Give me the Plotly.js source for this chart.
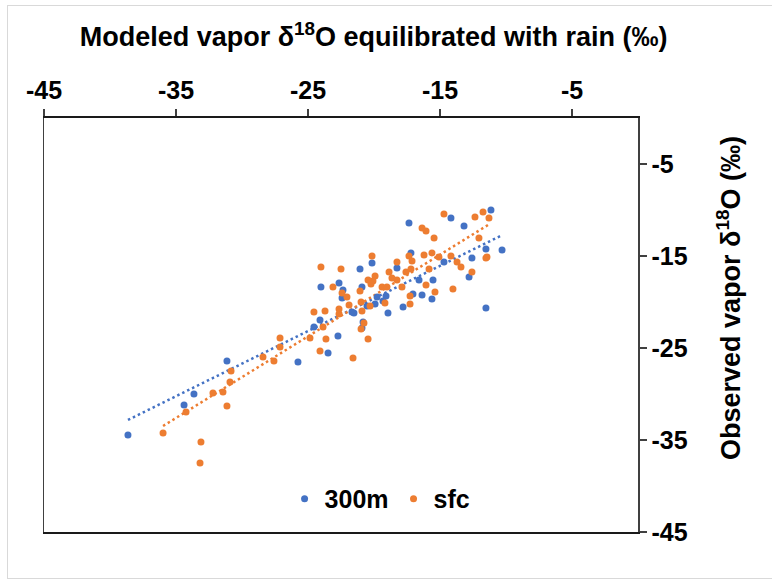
<!DOCTYPE html>
<html>
<head>
<meta charset="utf-8">
<script src="https://cdn.plot.ly/plotly-3.0.1.min.js"></script>
<style>
  html, body { margin: 0; padding: 0; background: #fff; overflow: hidden; }
  #wrap { position: relative; width: 772px; height: 584px; overflow: hidden; }
  #chart { width: 772px; height: 584px; }
  #frame { position: absolute; left: 7px; top: 5px; width: 800px; height: 572px;
           border: 1px solid #d9d9d9; pointer-events: none; }
</style>
</head>
<body>
<div id="wrap">
  <div id="chart"></div>
  <div id="frame"></div>
</div>
<script>
// Modeled vapor d18O equilibrated with rain (x) vs observed vapor d18O (y)
const x300m = [-38.64, -34.39, -33.64, -31.14, -25.76, -23.48, -22.73, -24.55, -24.09, -22.42,
               -22.65, -22.35, -24.02, -20.91, -21.06, -20.15, -18.26, -17.20, -17.35, -14.17,
               -11.14, -13.18, -10.30, -11.52, -12.58, -14.70, -12.80, -15.53, -16.59, -17.05,
               -16.36, -15.61, -19.09, -19.77, -19.32, -19.92, -20.53, -17.80, -21.52, -21.67,
               -11.52, -18.94, -20.83, -20.91];
const y300m = [-34.46, -31.20, -30.00, -26.41, -26.52, -25.54, -23.70, -22.72, -21.96, -19.57,
               -17.93, -18.70, -18.37, -18.37, -16.41, -15.76, -16.30, -14.67, -11.41, -10.87,
               -10.00, -11.74, -14.35, -14.24, -15.22, -15.65, -17.28, -17.61, -17.61, -19.13,
               -19.24, -19.67, -19.35, -19.46, -19.89, -20.22, -20.43, -20.54, -21.20, -21.09,
               -20.65, -21.20, -22.17, -22.83];

const xSfc = [-35.98, -33.11, -33.18, -34.24, -32.20, -31.44, -31.14, -30.91, -30.83, -28.41,
              -27.58, -27.12, -27.12, -24.85, -24.09, -23.64, -24.55, -23.71, -22.65, -14.70,
              -12.35, -11.74, -11.29, -16.36, -16.06, -15.45, -12.05, -20.15, -17.35, -16.21,
              -15.61, -15.08, -14.17, -11.52, -11.44, -24.02, -22.50, -18.26, -17.12, -13.71,
              -13.41, -12.58, -15.83, -17.20, -17.58, -18.86, -19.92, -20.08, -20.45, -20.23,
              -18.64, -18.26, -23.11, -21.06, -19.39, -19.02, -17.88, -16.06, -15.38, -14.02,
              -22.42, -22.05, -21.89, -20.98, -20.30, -19.17, -17.27, -17.27, -22.65, -20.91,
              -20.76, -20.98, -23.86, -20.45, -21.59];
const ySfc = [-34.24, -35.22, -37.50, -31.96, -29.89, -29.78, -31.30, -28.70, -27.50, -25.98,
              -26.41, -24.89, -23.91, -23.91, -25.33, -24.02, -21.09, -20.98, -20.76, -10.43,
              -10.76, -10.22, -10.87, -11.96, -12.28, -13.04, -13.04, -15.00, -15.00, -14.89,
              -14.67, -15.11, -15.00, -15.22, -15.11, -16.20, -16.41, -15.65, -15.54, -15.65,
              -16.20, -16.74, -16.41, -16.41, -16.74, -16.74, -17.17, -17.72, -17.61, -18.04,
              -17.39, -17.61, -18.37, -18.80, -18.37, -18.37, -18.37, -18.15, -18.91, -18.59,
              -19.02, -19.46, -20.33, -20.00, -20.43, -20.11, -19.35, -20.22, -21.30, -20.98,
              -22.28, -22.93, -22.72, -24.02, -26.09];

const seriesNames = ['300m', 'sfc'];
const xTickVals = [-45, -35, -25, -15, -5];
const yTickVals = [-5, -15, -25, -35, -45];

const BLUE = '#4472C4', ORANGE = '#ED7D31';
const FONT = 'Liberation Sans, Arial, sans-serif';

// least-squares linear trendline spanning each series' x range
function trend(xs, ys) {
  const n = xs.length;
  const mx = xs.reduce((a, b) => a + b, 0) / n;
  const my = ys.reduce((a, b) => a + b, 0) / n;
  let sxy = 0, sxx = 0;
  for (let i = 0; i < n; i++) { sxy += (xs[i] - mx) * (ys[i] - my); sxx += (xs[i] - mx) ** 2; }
  const b = sxy / sxx, a = my - b * mx;
  const x0 = Math.min(...xs), x1 = Math.max(...xs);
  return { x: [x0, x1], y: [a + b * x0, a + b * x1] };
}
const t300 = trend(x300m, y300m);
const tSfc = trend(xSfc, ySfc);

const traces = [
  { x: t300.x, y: t300.y, mode: 'lines', showlegend: false, hoverinfo: 'skip',
    line: { color: BLUE, width: 2.5, dash: '2.5px,3px' } },
  { x: tSfc.x, y: tSfc.y, mode: 'lines', showlegend: false, hoverinfo: 'skip',
    line: { color: ORANGE, width: 2.5, dash: '2.5px,3px' } },
  { x: x300m, y: y300m, mode: 'markers', name: seriesNames[0],
    marker: { color: BLUE, size: 7 } },
  { x: xSfc, y: ySfc, mode: 'markers', name: seriesNames[1],
    marker: { color: ORANGE, size: 7 } }
];

const layout = {
  width: 772, height: 584,
  margin: { l: 44, r: 134, t: 118, b: 52 },
  paper_bgcolor: '#fff', plot_bgcolor: '#fff',
  font: { family: FONT, size: 24, color: '#000', weight: 'bold' },
  title: { text: 'Modeled vapor δ<sup>18</sup>O equilibrated with rain (‰)',
           x: 0.484, xanchor: 'center', y: 0.937, yanchor: 'middle',
           font: { family: FONT, size: 27, color: '#000', weight: 'bold' } },
  xaxis: {
    side: 'top', range: [-45, 0], tickvals: xTickVals, ticktext: xTickVals.map(String),
    showgrid: false, zeroline: false,
    showline: true, mirror: true, linecolor: '#1a1a1a', linewidth: 2,
    ticks: 'outside', ticklen: 7, tickwidth: 1.5, tickcolor: '#404040',
    tickfont: { family: FONT, size: 25, color: '#000', weight: 'bold' }
  },
  yaxis: {
    side: 'right', range: [-45, 0], tickvals: yTickVals, ticktext: yTickVals.map(String),
    showgrid: false, zeroline: false,
    showline: true, mirror: true, linecolor: '#404040', linewidth: 1.5,
    ticks: 'outside', ticklen: 7, tickwidth: 1.5, tickcolor: '#404040',
    tickfont: { family: FONT, size: 25, color: '#000', weight: 'bold' }
  },
  legend: { orientation: 'h', x: 0.405, xanchor: 'left', y: 0.08, yanchor: 'middle',
            bgcolor: 'rgba(0,0,0,0)', font: { family: FONT, size: 25, color: '#000', weight: 'bold' },
            itemwidth: 30, tracegroupgap: 0 },
  annotations: [
    { text: 'Observed vapor δ<sup>18</sup>O (‰)', textangle: -90, showarrow: false,
      xref: 'paper', yref: 'paper', x: 1.153, y: 0.565, xanchor: 'center', yanchor: 'middle',
      font: { family: FONT, size: 27, color: '#000', weight: 'bold' } }
  ]
};

Plotly.newPlot('chart', traces, layout, { displayModeBar: false, staticPlot: true });
</script>
</body>
</html>
